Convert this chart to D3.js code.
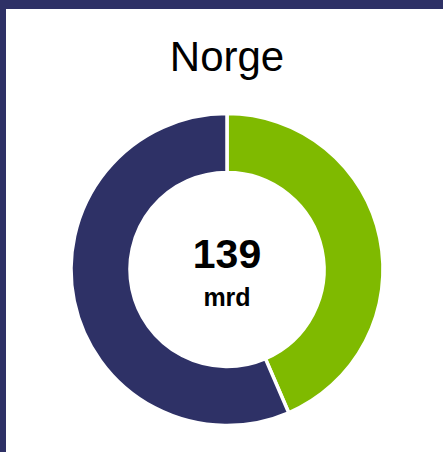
<!DOCTYPE html>
<html><head><meta charset="utf-8">
<script src="https://cdn.jsdelivr.net/npm/d3@7"></script>
<style>html,body{margin:0;padding:0;background:#fff;}svg{display:block;}</style>
</head><body>
<script>
const title = "Norge";
const categories = ["A", "B"];
const values = [60.5, 78.5];
const colors = ["#7FBA00", "#2E3166"];
const totalLabel = "139";
const unitLabel = "mrd";

const W = 443, H = 452;
const svg = d3.select("body").append("svg").attr("width", W).attr("height", H);
svg.append("rect").attr("width", W).attr("height", H).attr("fill", "#2E3166");
svg.append("rect").attr("x", 6).attr("y", 9).attr("width", W - 6).attr("height", H - 9).attr("fill", "#fff");

svg.append("text").attr("x", 227).attr("y", 71).attr("text-anchor", "middle")
  .attr("font-family", "Liberation Sans, Arial, sans-serif").attr("font-size", 42)
  .attr("fill", "#000").text(title);

const cx = 227, cy = 269.5, R = 156, r = 97;
const pie = d3.pie().sort(null).value(d => d)(values);
const arc = d3.arc().innerRadius(r).outerRadius(R);
const color = d3.scaleOrdinal().domain(categories).range(colors);
const g = svg.append("g").attr("transform", `translate(${cx},${cy})`);
g.selectAll("path").data(pie).join("path")
  .attr("d", arc).attr("fill", (d, i) => color(categories[i]))
  .attr("stroke", "#fff").attr("stroke-width", 3.5);

g.append("text").attr("y", -1.5).attr("text-anchor", "middle")
  .attr("font-family", "Liberation Sans, Arial, sans-serif").attr("font-weight", "bold")
  .attr("font-size", 41).attr("fill", "#000").text(totalLabel);
g.append("text").attr("y", 36).attr("text-anchor", "middle")
  .attr("font-family", "Liberation Sans, Arial, sans-serif").attr("font-weight", "bold")
  .attr("font-size", 25).attr("fill", "#000").text(unitLabel);
</script>
</body></html>
